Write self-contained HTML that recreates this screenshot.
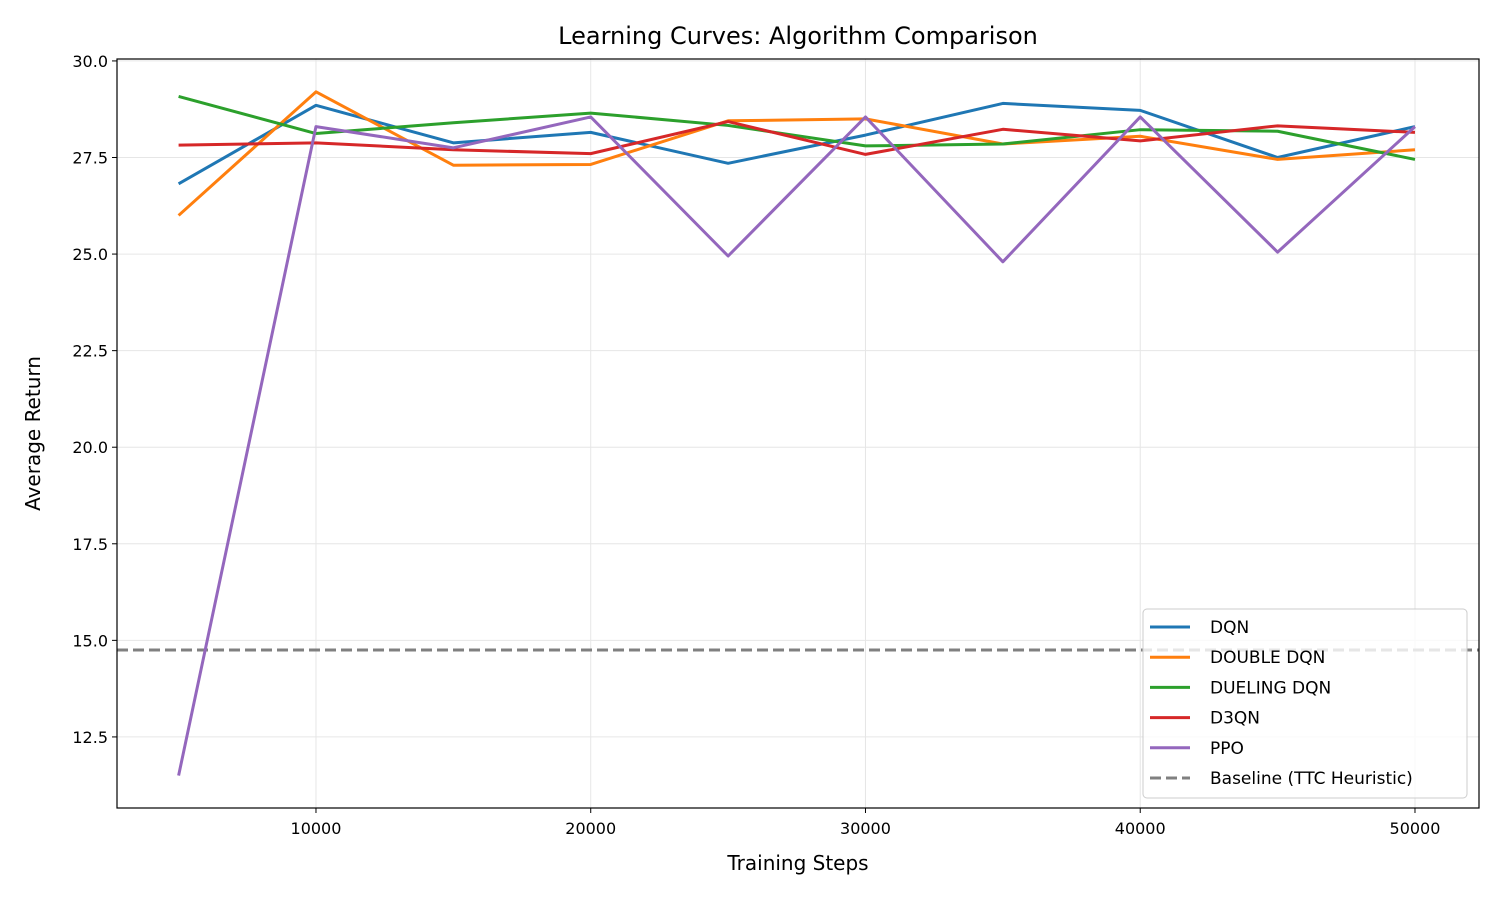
<!DOCTYPE html>
<html><head><meta charset="utf-8"><style>
body{margin:0;background:#fff;}
svg{font-family:"DejaVu Sans","Liberation Sans",sans-serif;}
</style></head><body>
<svg id="chart" width="1500" height="900"></svg>
<script>
const steps=[5000,10000,15000,20000,25000,30000,35000,40000,45000,50000];
const dqn=[26.82,28.85,27.88,28.15,27.35,28.08,28.9,28.72,27.5,28.3];
const doubleDqn=[26.0,29.2,27.3,27.32,28.45,28.5,27.85,28.05,27.45,27.7];
const duelingDqn=[29.08,28.12,28.4,28.65,28.33,27.8,27.85,28.22,28.18,27.45];
const d3qn=[27.82,27.88,27.7,27.6,28.43,27.58,28.23,27.93,28.32,28.15];
const ppo=[11.5,28.3,27.75,28.55,24.95,28.55,24.8,28.55,25.05,28.3];
const baseline=14.75;
const xTicks=[10000,20000,30000,40000,50000];
const yTicks=[12.5,15.0,17.5,20.0,22.5,25.0,27.5,30.0];
const seriesNames=["DQN","DOUBLE DQN","DUELING DQN","D3QN","PPO"];
const seriesData=[dqn,doubleDqn,duelingDqn,d3qn,ppo];
const colors=["#1f77b4","#ff7f0e","#2ca02c","#d62728","#9467bd"];

const L=117,R=1479,T=59,B=808;
const xMin=2758,xMax=52330,yMin=10.66,yMax=30.05;
const X=v=>L+(v-xMin)/(xMax-xMin)*(R-L);
const Y=v=>B-(v-yMin)/(yMax-yMin)*(B-T);
const svg=document.getElementById('chart');
const NS="http://www.w3.org/2000/svg";
function mk(tag,attrs,parent){const e=document.createElementNS(NS,tag);for(const k in attrs)e.setAttribute(k,attrs[k]);(parent||svg).appendChild(e);return e;}

xTicks.forEach(t=>{
  const g=mk('line',{x1:X(t),x2:X(t),y1:T,y2:B,stroke:'#e6e6e6','stroke-width':1});
  
  
  const tk=mk('line',{x1:X(t),x2:X(t),y1:B,y2:B+5,stroke:'#000'});
  
  
  const tx=mk('text',{x:X(t),y:B+26,'text-anchor':'middle','font-size':16});
  tx.textContent=t;
  
  
});
yTicks.forEach(t=>{
  const g=mk('line',{x1:L,x2:R,y1:Y(t),y2:Y(t),stroke:'#e6e6e6','stroke-width':1});
  
  
  const tk=mk('line',{x1:L-5,x2:L,y1:Y(t),y2:Y(t),stroke:'#000'});
  
  
  const tx=mk('text',{x:L-9,y:Y(t)+6,'text-anchor':'end','font-size':16});
  tx.textContent=t.toFixed(1);
  
  
});

const bl=mk('line',{x1:L,x2:R,y1:Y(baseline),y2:Y(baseline),stroke:'#808080','stroke-width':3,'stroke-dasharray':'11,5'});



seriesData.forEach((d,i)=>{
  const p=mk('polyline',{points:d.map((v,j)=>X(steps[j])+','+Y(v)).join(' '),fill:'none',stroke:colors[i],'stroke-width':3,'stroke-linejoin':'round'});
  
  
});

const frame=mk('rect',{x:L,y:T,width:R-L,height:B-T,fill:'none',stroke:'#000','stroke-width':1.2});



const title=mk('text',{x:(L+R)/2,y:44,'text-anchor':'middle','font-size':24});
title.textContent='Learning Curves: Algorithm Comparison';


const xl=mk('text',{x:(L+R)/2,y:870,'text-anchor':'middle','font-size':20});
xl.textContent='Training Steps';


const yl=mk('text',{x:0,y:0,'text-anchor':'middle','font-size':20,transform:'translate(40,'+((T+B)/2)+') rotate(-90)'});
yl.textContent='Average Return';



const lg=mk('g',{});


mk('rect',{x:1143,y:609,width:324,height:189,rx:4,fill:'rgba(255,255,255,0.8)',stroke:'#ccc'},lg);
const names=seriesNames.concat(['Baseline (TTC Heuristic)']);
const lc=colors.concat(['#808080']);
names.forEach((n,i)=>{
  const y=627+i*30.2;
  const ln=mk('line',{x1:1150,x2:1190,y1:y,y2:y,stroke:lc[i],'stroke-width':3},lg);
  if(i===5)ln.setAttribute('stroke-dasharray','11,5');
  
  
  const t=mk('text',{x:1210,y:y+6,'font-size':17},lg);
  t.textContent=n;
  
  
});
</script>
</body></html>
